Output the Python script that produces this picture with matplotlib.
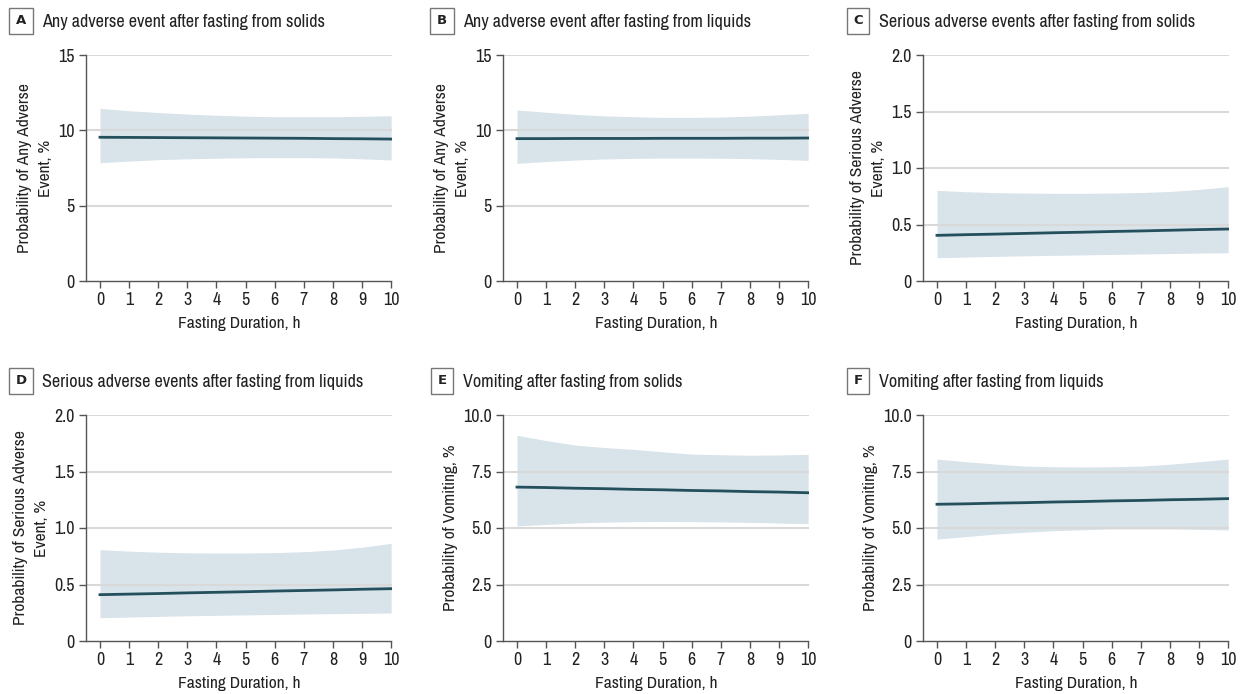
import matplotlib.pyplot as plt
from matplotlib import font_manager

hours = [0, 1, 2, 3, 4, 5, 6, 7, 8, 9, 10]

# A: any adverse event, solids
a_mid = [9.54, 9.53, 9.52, 9.51, 9.50, 9.49, 9.48, 9.47, 9.45, 9.44, 9.42]
a_hi = [11.46, 11.3, 11.18, 11.08, 11.0, 10.94, 10.9, 10.9, 10.9, 10.93, 10.97]
a_lo = [7.85, 7.96, 8.05, 8.11, 8.15, 8.18, 8.19, 8.19, 8.17, 8.11, 8.03]

# B: any adverse event, liquids
b_mid = [9.45, 9.45, 9.46, 9.46, 9.46, 9.47, 9.47, 9.47, 9.48, 9.48, 9.49]
b_hi = [11.35, 11.2, 11.06, 10.96, 10.9, 10.86, 10.86, 10.88, 10.94, 11.03, 11.13]
b_lo = [7.81, 7.93, 8.03, 8.1, 8.14, 8.16, 8.16, 8.15, 8.12, 8.07, 8.01]

# C: serious adverse events, solids
c_mid = [0.404, 0.41, 0.415, 0.421, 0.427, 0.432, 0.438, 0.443, 0.449, 0.455, 0.46]
c_hi = [0.802, 0.79, 0.782, 0.778, 0.776, 0.776, 0.778, 0.783, 0.792, 0.81, 0.835]
c_lo = [0.206, 0.212, 0.218, 0.223, 0.227, 0.231, 0.235, 0.239, 0.243, 0.247, 0.25]

# D: serious adverse events, liquids
d_mid = [0.41, 0.415, 0.42, 0.426, 0.431, 0.436, 0.442, 0.447, 0.452, 0.458, 0.463]
d_hi = [0.808, 0.795, 0.786, 0.78, 0.779, 0.779, 0.782, 0.79, 0.805, 0.83, 0.864]
d_lo = [0.206, 0.212, 0.218, 0.223, 0.227, 0.231, 0.235, 0.239, 0.242, 0.245, 0.248]

# E: vomiting, solids
e_mid = [6.81, 6.79, 6.76, 6.74, 6.71, 6.69, 6.66, 6.64, 6.61, 6.59, 6.56]
e_hi = [9.1, 8.87, 8.67, 8.56, 8.48, 8.37, 8.27, 8.24, 8.22, 8.23, 8.26]
e_lo = [5.09, 5.16, 5.22, 5.26, 5.28, 5.29, 5.28, 5.27, 5.25, 5.22, 5.19]

# F: vomiting, liquids
f_mid = [6.05, 6.07, 6.1, 6.12, 6.15, 6.17, 6.2, 6.22, 6.25, 6.27, 6.3]
f_hi = [8.05, 7.93, 7.83, 7.74, 7.71, 7.7, 7.71, 7.74, 7.82, 7.93, 8.05]
f_lo = [4.51, 4.62, 4.73, 4.81, 4.88, 4.92, 4.96, 4.96, 4.96, 4.94, 4.91]

letters = ["A", "B", "C", "D", "E", "F"]
titles = [
    "Any adverse event after fasting from solids",
    "Any adverse event after fasting from liquids",
    "Serious adverse events after fasting from solids",
    "Serious adverse events after fasting from liquids",
    "Vomiting after fasting from solids",
    "Vomiting after fasting from liquids",
]
ylabels = [
    "Probability of Any Adverse\nEvent, %",
    "Probability of Any Adverse\nEvent, %",
    "Probability of Serious Adverse\nEvent, %",
    "Probability of Serious Adverse\nEvent, %",
    "Probability of Vomiting, %",
    "Probability of Vomiting, %",
]
xlabel = "Fasting Duration, h"
yticks_any = [0, 5, 10, 15]
yticks_any_lbl = ["0", "5", "10", "15"]
yticks_ser = [0, 0.5, 1.0, 1.5, 2.0]
yticks_ser_lbl = ["0", "0.5", "1.0", "1.5", "2.0"]
yticks_vom = [0, 2.5, 5.0, 7.5, 10.0]
yticks_vom_lbl = ["0", "2.5", "5.0", "7.5", "10.0"]

panels = [
    (a_mid, a_hi, a_lo, yticks_any, yticks_any_lbl),
    (b_mid, b_hi, b_lo, yticks_any, yticks_any_lbl),
    (c_mid, c_hi, c_lo, yticks_ser, yticks_ser_lbl),
    (d_mid, d_hi, d_lo, yticks_ser, yticks_ser_lbl),
    (e_mid, e_hi, e_lo, yticks_vom, yticks_vom_lbl),
    (f_mid, f_hi, f_lo, yticks_vom, yticks_vom_lbl),
]

# pick a narrow face if one is installed
fonts = font_manager.fontManager.ttflist
narrow = [f for f in fonts if "Narrow" in f.name or "Condensed" in f.name]
cond = [f for f in fonts if f.stretch in ("condensed", "semi-condensed")]
if narrow:
    plt.rcParams["font.family"] = [narrow[0].name, "DejaVu Sans"]
elif cond:
    plt.rcParams["font.family"] = [cond[0].name, "DejaVu Sans"]
    plt.rcParams["font.stretch"] = "condensed"
else:
    plt.rcParams["font.family"] = ["DejaVu Sans"]

line_col = "#244f5c"
band_col = "#d8e3ea"
grid_col = "#d9d9d9"
axis_col = "#555555"
text_col = "#222222"

W, H = 1242, 694
fig = plt.figure(figsize=(W / 100, H / 100), dpi=100)
rend = fig.canvas.get_renderer()


def fit_size(text, target_px, base=12):
    probe = fig.text(0, 0, text, fontsize=base)
    w = probe.get_window_extent(rend).width
    probe.remove()
    return base * target_px / w


# font sizes matched (a bit under) to text widths in the reference
fs_title = fit_size(titles[0], 282)
fs_label = fit_size(xlabel, 122)
fs_tick = fs_label * 1.03

lefts = [86, 503, 923]
box_x = [10, 431, 847]
rows = [(55, 281), (415, 641)]

for i, (mid, hi, lo, yt, ytl) in enumerate(panels):
    r, c = divmod(i, 3)
    top, bot = rows[r]
    left = lefts[c]
    ax = fig.add_axes([left / W, 1 - bot / H, 306 / W, (bot - top) / H])
    ax.fill_between(hours, lo, hi, color=band_col, lw=0, zorder=1)
    ax.plot(hours, mid, color=line_col, lw=2, zorder=3)
    ax.set_xlim(-0.48, 10.03)
    ax.set_ylim(yt[0], yt[-1])
    ax.set_xticks(hours)
    ax.set_yticks(yt)
    ax.set_yticklabels(ytl)
    for y in yt[1:]:
        ax.axhline(y, color=grid_col, lw=1.5, zorder=2)
    for s in ["top", "right"]:
        ax.spines[s].set_visible(False)
    for s in ["left", "bottom"]:
        ax.spines[s].set_color(axis_col)
        ax.spines[s].set_linewidth(1)
    ax.spines["bottom"].set_bounds(-0.48, 10)
    ax.tick_params(direction="out", length=5, width=1, color=axis_col,
                   labelcolor=text_col, labelsize=fs_tick, pad=3)
    ax.set_xlabel(xlabel, fontsize=fs_label, color=text_col, labelpad=6)
    ax.set_ylabel(ylabels[i], fontsize=fs_label, color=text_col,
                  linespacing=1.45, labelpad=4)

    # panel letter and title
    yc = 1 - (top - 34) / H
    fig.text((box_x[c] + 11) / W, yc, letters[i], fontsize=9.5,
             family=["DejaVu Sans"], fontweight="bold", color=text_col,
             ha="center", va="center",
             bbox=dict(boxstyle="square,pad=0.5", fc="white", ec="#777777", lw=1))
    fig.text((box_x[c] + 32) / W, yc - 1 / H, titles[i], fontsize=fs_title,
             color=text_col, ha="left", va="center")

fig.savefig("out.png", dpi=100)
